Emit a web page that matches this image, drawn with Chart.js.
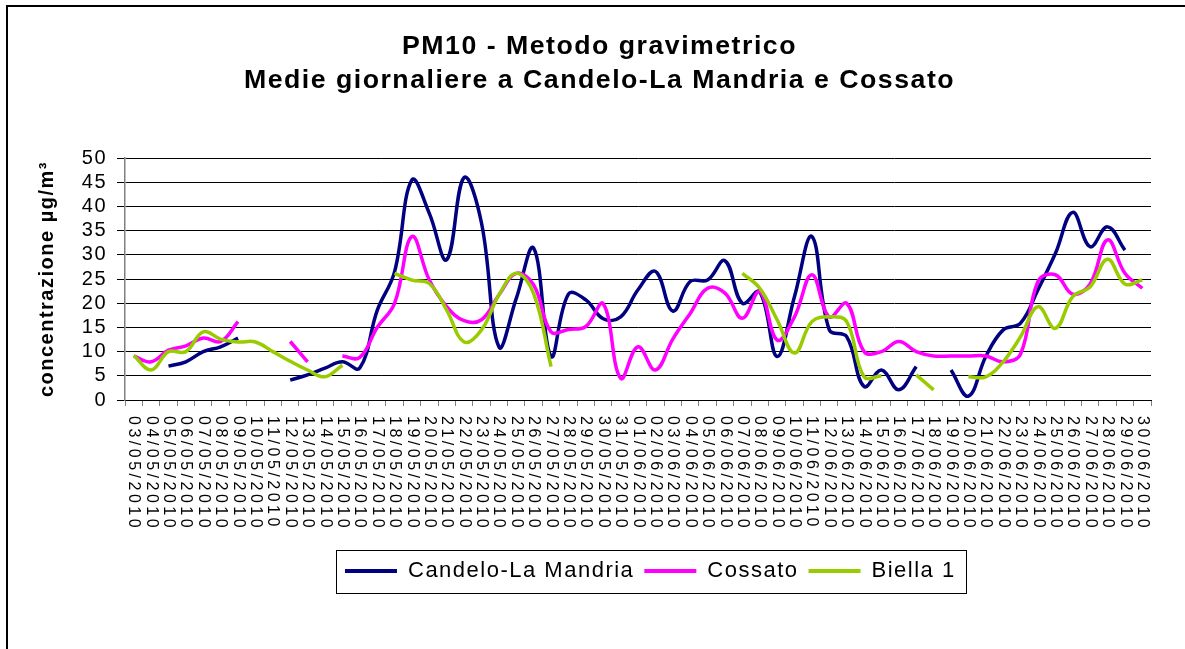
<!DOCTYPE html>
<html>
<head>
<meta charset="utf-8">
<script src="https://cdn.jsdelivr.net/npm/chart.js@4.4.0/dist/chart.umd.min.js"></script>
<style>
  html, body { margin: 0; padding: 0; background: #fff; }
</style>
</head>
<body>
<canvas id="pmChart" width="1185" height="649"></canvas>
<script>
// giorni 03/05/2010 - 30/06/2010
const giorni = [
  '03/05/2010','04/05/2010','05/05/2010','06/05/2010','07/05/2010','08/05/2010','09/05/2010',
  '10/05/2010','11/05/2010','12/05/2010','13/05/2010','14/05/2010','15/05/2010','16/05/2010',
  '17/05/2010','18/05/2010','19/05/2010','20/05/2010','21/05/2010','22/05/2010','23/05/2010',
  '24/05/2010','25/05/2010','26/05/2010','27/05/2010','28/05/2010','29/05/2010','30/05/2010',
  '31/05/2010','01/06/2010','02/06/2010','03/06/2010','04/06/2010','05/06/2010','06/06/2010',
  '07/06/2010','08/06/2010','09/06/2010','10/06/2010','11/06/2010','12/06/2010','13/06/2010',
  '14/06/2010','15/06/2010','16/06/2010','17/06/2010','18/06/2010','19/06/2010','20/06/2010',
  '21/06/2010','22/06/2010','23/06/2010','24/06/2010','25/06/2010','26/06/2010','27/06/2010',
  '28/06/2010','29/06/2010','30/06/2010'
];

// µg/m³, null = dato mancante
const candelo = [
  null, null, 7, 7.9, 10, 11, 12.8, null, null, 4.1, 5.2, 6.6, 7.9, 6.6,
  18.5, 26.5, 45.5, 38.6, 29, 46, 36.6, 11, 21, 31.4, 9, 21.9, 20.7, 16.8,
  17.2, 22.8, 26.6, 18.4, 24.5, 24.8, 28.8, 20, 22.4, 9, 21.4, 33.8, 14.5, 13.1,
  2.8, 6.2, 2.1, 6.9, null, 6.2, 0.8, 9, 14.5, 15.9, 22.8, 30.3, 38.8, 31.7,
  35.8, 31, null
];
const cossato = [
  9.1, 7.9, 10.3, 11.2, 12.8, 12.1, 16.2, null, null, 12.1, 7.9, null, 9.1, 8.8,
  15, 20, 33.8, 24.8, 19.3, 16.4, 16.6, 21.7, 26.2, 23.8, 14.1, 14.6, 15.2, 19.9,
  4.5, 11, 6.2, 12.6, 17.9, 23.1, 22.1, 16.9, 22.4, 12.4, 17.2, 25.9, 17.2, 20,
  10, 10, 12.1, 10, 9.1, 9.1, 9.1, 9.1, 7.9, 9.5, 24.5, 25.9, 21.9, 24,
  33.1, 26.2, 23.1
];
const biella = [
  9.2, 6.2, 10, 10, 14.1, 12.6, 12, 12, 10, 8, 6.2, 4.8, 7.2, null,
  null, 26.2, 24.8, 24.1, 18.6, 12, 14.5, 21.7, 26.2, 22, 6.9, null, null, null,
  null, null, null, null, null, null, null, 26.2, 23.1, 16.6, 9.7, 16.2, 17.2, 16.2,
  4.8, 5, null, 5.2, 2.1, null, 4.8, 4.8, 7.9, 13.1, 19.3, 14.8, 21.4, 23.4,
  29.1, 24, 24.8
];
const yTicks = [0, 5, 10, 15, 20, 25, 30, 35, 40, 45, 50];

const FONT = '"Liberation Sans", Arial, sans-serif';

let ctxEl = document.getElementById('pmChart');

// spaziatura larga dei caratteri come nell'originale (Excel)
function spacing(c) { c.ctx.letterSpacing = '1.5px'; }

let pmChart = new Chart(ctxEl, {
    type: 'line',
    data: {
        labels: giorni,
        datasets: [
            {
                label: 'Candelo-La Mandria',
                data: candelo,
                borderColor: '#000080',
                backgroundColor: '#000080',
                borderWidth: 3.5,
                order: 3
            },
            {
                label: 'Cossato',
                data: cossato,
                borderColor: '#ff00ff',
                backgroundColor: '#ff00ff',
                borderWidth: 3.5,
                order: 2
            },
            {
                label: 'Biella 1',
                data: biella,
                borderColor: '#99cc00',
                backgroundColor: '#99cc00',
                borderWidth: 3.5,
                order: 1
            }
        ]
    },
    options: {
        responsive: false,
        animation: false,
        spanGaps: false,
        elements: {
            point: { radius: 0, hoverRadius: 0 },
            line: { tension: 0.4 }
        },
        layout: {
            padding: { left: 0, right: 34, top: 0, bottom: 57 }
        },
        scales: {
            x: {
                offset: true,
                grid: {
                    offset: true,
                    drawOnChartArea: false,
                    drawTicks: true,
                    tickLength: 6,
                    color: '#808080'
                },
                border: { color: '#000', width: 1 },
                ticks: { display: false },
                afterFit: function(s) { s.height = 150; }
            },
            y: {
                min: 0,
                max: 50,
                afterBuildTicks: function(s) { s.ticks = yTicks.map(v => ({ value: v })); },
                grid: {
                    color: '#000',
                    lineWidth: 1,
                    tickLength: 8
                },
                border: { color: '#808080', width: 1.5 },
                ticks: {
                    color: '#000',
                    padding: 10,
                    autoSkip: false,
                    font: { family: FONT, size: 20 }
                },
                title: {
                    display: true,
                    text: 'concentrazione µg/m³',
                    color: '#000',
                    padding: { top: 35, bottom: 0 },
                    font: { family: FONT, size: 20, weight: 'bold' }
                },
                afterFit: function(s) { s.width = 125; }
            }
        },
        plugins: {
            title: {
                display: true,
                text: ['PM10 - Metodo gravimetrico', 'Medie giornaliere a Candelo-La Mandria e Cossato'],
                color: '#000',
                padding: { top: 30.5, bottom: 61.5 },
                font: { family: FONT, size: 26.7, weight: 'bold', lineHeight: 1.24 }
            },
            legend: {
                display: true,
                position: 'bottom',
                labels: {
                    color: '#000',
                    boxWidth: 52,
                    boxHeight: 4,
                    padding: 10,
                    font: { family: FONT, size: 22 },
                    sort: (a, b) => a.datasetIndex - b.datasetIndex,
                    generateLabels: function(c) {
                        let items = Chart.defaults.plugins.legend.labels.generateLabels(c);
                        items.forEach(it => { it.lineWidth = 0; });
                        return items;
                    }
                }
            },
            tooltip: { enabled: false }
        }
    },
    plugins: [
        {
            id: 'spacing',
            beforeUpdate: spacing,
            beforeLayout: spacing,
            beforeDraw: spacing
        },
        {
            // titolo e legenda non sono centrati sul grafico nell'originale
            id: 'shift',
            afterUpdate: function(c) {
                let tb = c.titleBlock;
                tb.left += 24;
                tb.right += 24;
                let lg = c.legend;
                let boxes = lg.legendHitBoxes;
                if (boxes && boxes.length) {
                    let dx = 345 - boxes[0].left;
                    lg.left += dx;
                    lg.right += dx;
                    boxes.forEach(b => { b.left += dx; });
                }
            }
        },
        {
            // etichette date verticali (lette dall'alto in basso) + cornici
            id: 'decor',
            afterDraw: function(c) {
                let ctx = c.ctx;
                let xs = c.scales.x;
                ctx.save();
                ctx.fillStyle = '#000';
                ctx.font = '16px ' + FONT;
                ctx.textAlign = 'left';
                ctx.textBaseline = 'middle';
                ctx.letterSpacing = '3.5px';
                giorni.forEach(function(lab, i) {
                    let x = xs.getPixelForValue(i);
                    ctx.save();
                    ctx.translate(x, xs.top + 16);
                    ctx.rotate(Math.PI / 2);
                    ctx.fillText(lab, 0, 0);
                    ctx.restore();
                });
                ctx.restore();

                // riquadro legenda
                let boxes = c.legend.legendHitBoxes;
                if (boxes && boxes.length) {
                    let first = boxes[0], last = boxes[boxes.length - 1];
                    let l = first.left - 9, r = last.left + last.width + 10;
                    let t = first.top - 10, b = first.top + first.height + 11;
                    ctx.save();
                    ctx.strokeStyle = '#000';
                    ctx.lineWidth = 1;
                    ctx.strokeRect(Math.round(l) + 0.5, Math.round(t) + 0.5, Math.round(r - l), Math.round(b - t));
                    ctx.restore();
                }

                // cornice esterna
                ctx.save();
                ctx.strokeStyle = '#000';
                ctx.lineWidth = 2;
                ctx.strokeRect(7, 6, 1400, 1000);
                ctx.restore();
            }
        }
    ]
});
</script>
</body>
</html>
